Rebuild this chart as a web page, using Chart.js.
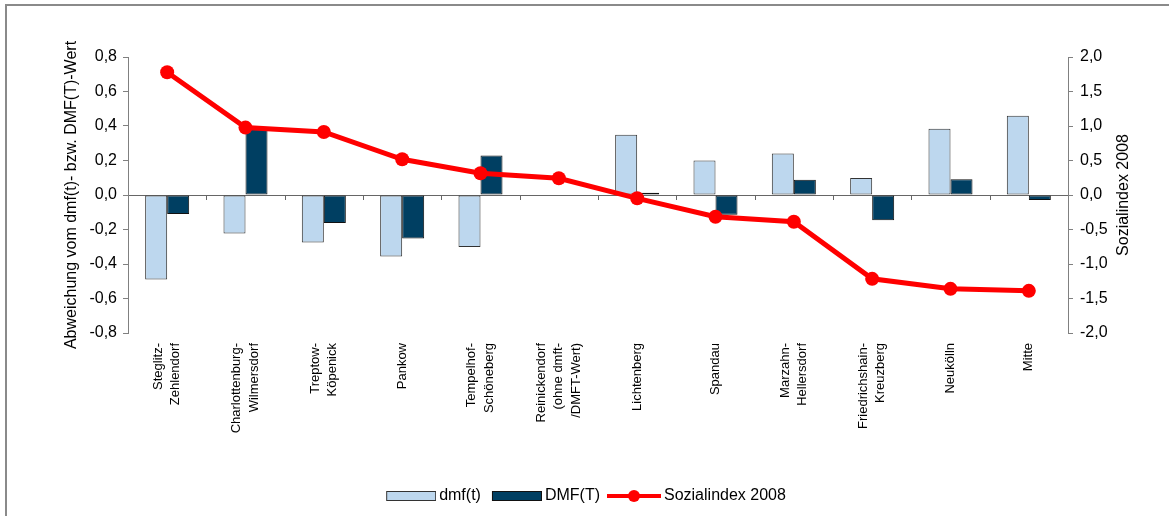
<!DOCTYPE html>
<html><head><meta charset="utf-8">
<script src="https://cdn.jsdelivr.net/npm/chart.js@4.4.1/dist/chart.umd.min.js"></script>
<style>
html,body{margin:0;padding:0;background:#fff;overflow:hidden;}
#wrap{position:relative;width:1169px;height:516px;}
.fl{position:absolute;background:#8a8a8a;}
</style></head><body>
<div id="wrap"><canvas id="c" width="1169" height="516"></canvas>
<div class="fl" style="left:5px;top:4px;width:2px;height:520px"></div>
<div class="fl" style="left:5px;top:4px;width:1170px;height:2px"></div>
</div>
<script>
const categories = [["Steglitz-","Zehlendorf"],["Charlottenburg-","Wilmersdorf"],["Treptow-","Köpenick"],["Pankow"],["Tempelhof-","Schöneberg"],["Reinickendorf","(ohne dmft-","/DMFT-Wert)"],["Lichtenberg"],["Spandau"],["Marzahn-","Hellersdorf"],["Friedrichshain-","Kreuzberg"],["Neukölln"],["Mitte"]];
const dmf_t = [-0.49,-0.223,-0.275,-0.357,-0.302,null,0.349,0.20,0.24,0.099,0.384,0.459];
const DMF_T = [-0.11,0.39,-0.163,-0.252,0.229,null,0.013,-0.114,0.089,-0.147,0.091,-0.029];
const sozialindex2008 = [1.78,0.977,0.914,0.518,0.315,0.242,-0.048,-0.315,-0.387,-1.215,-1.36,-1.389];
const seriesNames = ["dmf(t)","DMF(T)","Sozialindex 2008"];
const leftTitle = "Abweichung vom dmf(t)- bzw. DMF(T)-Wert";
const rightTitle = "Sozialindex 2008";

const FONT = '"Liberation Sans", Arial, sans-serif';
const LIGHT = '#BDD7EE', DARK = '#003F62', RED = '#FF0000';
const P = 45;
function legendImg(w, h, draw){
  const a = Math.max(0, P + 10 - w);
  const C = 2*(a+w) - P - 10;
  const c = document.createElement('canvas'); c.width = C; c.height = h;
  const g = c.getContext('2d'); g.translate(a,0); draw(g); return c;
}
const imgLight = legendImg(50, 10, g=>{g.fillStyle=LIGHT;g.fillRect(0.5,0.5,49,9);g.strokeStyle='#333';g.lineWidth=1;g.strokeRect(0.5,0.5,49,9);});
const imgDark = legendImg(50, 10, g=>{g.fillStyle=DARK;g.fillRect(0.5,0.5,49,9);g.strokeStyle='#111';g.lineWidth=1;g.strokeRect(0.5,0.5,49,9);});
const imgLine = legendImg(54, 14, g=>{g.strokeStyle=RED;g.lineWidth=4;g.beginPath();g.moveTo(0,7);g.lineTo(54,7);g.stroke();g.fillStyle=RED;g.beginPath();g.arc(27,7,6,0,Math.PI*2);g.fill();});
const legendImgs = [imgLight, imgDark, imgLine];

const fmt = v => (Math.abs(v)<1e-9?0:v).toFixed(1).replace('.', ',');

const extras = {
  id:'extras',
  beforeDatasetsDraw(chart){
    const ctx = chart.ctx, xs = chart.scales.x, ys = chart.scales.y;
    const y0 = ys.getPixelForValue(0);
    ctx.save(); ctx.strokeStyle='#666'; ctx.lineWidth=1;
    for(let i=1;i<categories.length;i++){
      const bx = Math.round((xs.getPixelForValue(i-1)+xs.getPixelForValue(i))/2)+0.5;
      ctx.beginPath(); ctx.moveTo(bx, Math.round(y0)); ctx.lineTo(bx, Math.round(y0)+5); ctx.stroke();
    }
    ctx.restore();
  },
  afterDraw(chart){
    const ctx = chart.ctx, xs = chart.scales.x, y1 = chart.scales.y1, ca = chart.chartArea;
    ctx.save();
    ctx.fillStyle='#000'; ctx.font='13px '+FONT;
    ctx.textAlign='right'; ctx.textBaseline='middle';
    const lh = 17.5;
    categories.forEach((lines,i)=>{
      const x = xs.getPixelForValue(i);
      lines.forEach((t,j)=>{
        const cx = x + (j-(lines.length-1)/2)*lh;
        ctx.save(); ctx.translate(cx, ca.bottom+10); ctx.rotate(-Math.PI/2); ctx.fillText(t,0,0); ctx.restore();
      });
    });
    ctx.font='16px '+FONT; ctx.textAlign='center';
    ctx.save(); ctx.translate(y1.right-9.6,(y1.top+y1.bottom)/2); ctx.rotate(-Math.PI/2); ctx.fillText(rightTitle,0,0); ctx.restore();
    ctx.restore();
  }
};

new Chart(document.getElementById('c'), {
  type:'bar',
  data:{
    labels: categories,
    datasets:[
      {type:'bar', label:seriesNames[0], data:dmf_t, backgroundColor:LIGHT, borderColor:'#333', borderWidth:1, borderSkipped:false, yAxisID:'y', order:1},
      {type:'bar', label:seriesNames[1], data:DMF_T, backgroundColor:DARK, borderColor:'#111', borderWidth:1, borderSkipped:false, yAxisID:'y', order:1},
      {type:'line', label:seriesNames[2], data:sozialindex2008, borderColor:RED, backgroundColor:RED, borderWidth:5, pointRadius:7, pointBackgroundColor:RED, pointBorderColor:RED, pointBorderWidth:0, tension:0, yAxisID:'y1', order:0}
    ]
  },
  options:{
    responsive:false, animation:false, devicePixelRatio:1,
    layout:{padding:{left:39,right:36,top:57,bottom:2}},
    datasets:{bar:{categoryPercentage:0.562, barPercentage:1}},
    plugins:{
      tooltip:{enabled:false},
      legend:{position:'bottom', align:'center',
        labels:{usePointStyle:true, pointStyleWidth:P, padding:11, color:'#000', font:{family:FONT,size:16},
          generateLabels(chart){
            return chart.data.datasets.map((d,i)=>({text:d.label, pointStyle:legendImgs[i], datasetIndex:i, hidden:false, fillStyle:'transparent', strokeStyle:'transparent', lineWidth:0, fontColor:'#000'}));
          }}}
    },
    scales:{
      x:{type:'category', offset:true, ticks:{display:false}, grid:{display:false}, border:{display:false},
        afterFit(s){ s.height = 144; }},
      y:{position:'left', min:-0.8, max:0.8,
        ticks:{stepSize:0.2, padding:6, color:'#000', font:{family:FONT,size:16}, callback:v=>fmt(v)},
        grid:{drawOnChartArea:true, tickLength:5, tickColor:'#808080',
          color:c=>(c.tick && Math.abs(c.tick.value)<1e-9)?'#666':'transparent', lineWidth:1},
        border:{display:true, color:'#808080', width:1},
        title:{display:true, text:leftTitle, color:'#000', font:{family:FONT,size:16}, padding:{top:23,bottom:0}},
        afterFit(s){ s.width = 89; }},
      y1:{position:'right', min:-2, max:2,
        ticks:{stepSize:0.5, padding:7, color:'#000', font:{family:FONT,size:16}, callback:v=>fmt(v)},
        grid:{drawOnChartArea:false, tickLength:5, tickColor:'#808080'},
        border:{display:true, color:'#808080', width:1},
        afterFit(s){ s.width = 65; }}
    }
  },
  plugins:[extras]
});
</script>
</body></html>
